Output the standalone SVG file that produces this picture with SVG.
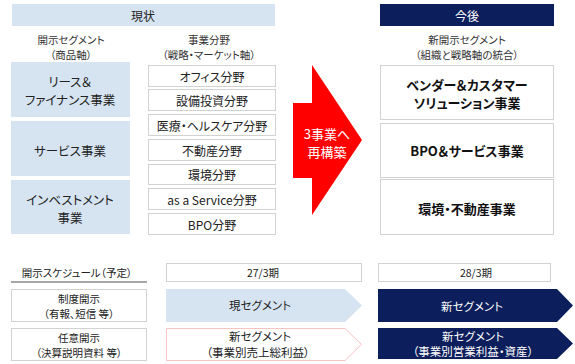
<svg xmlns="http://www.w3.org/2000/svg" width="575" height="364" viewBox="0 0 575 364">
<style>
text{font-family:"Noto Sans CJK JP","Noto Sans",sans-serif;text-anchor:middle;dominant-baseline:central;font-feature-settings:"palt";fill:#222}
.sub{font-size:10.5px;fill:#333}
.lb{font-size:12.5px}
.mb{font-size:12px}
.rb{font-size:13px;font-weight:bold;fill:#111}
.sm{font-size:10.5px}
.sg{font-size:11.5px}
.blue{fill:#d6e4f1}
.wbox{fill:#fff;stroke:#d2d2d2;stroke-width:1}
.navy{fill:#0c1e5b}
</style>
<g id="header-current"><rect class="blue" x="12" y="4" width="263" height="22"/><text x="143" y="15" style="font-size:12px">現状</text></g>
<g id="header-future"><rect class="navy" x="380" y="4" width="174" height="22"/><text x="467" y="15" style="font-size:12px;fill:#fff">今後</text></g>
<g id="sub-left"><text class="sub" x="71" y="39">開示セグメント</text><text class="sub" x="71" y="54">（商品軸）</text></g>
<g id="sub-mid"><text class="sub" x="209" y="39">事業分野</text><text class="sub" x="209" y="54">（戦略・マーケット軸）</text></g>
<g id="sub-right"><text class="sub" x="467" y="39">新開示セグメント</text><text class="sub" x="467" y="54">（組織と戦略軸の統合）</text></g>
<g id="seg-lease"><rect class="blue" x="11" y="62" width="119" height="55"/><text class="lb" x="70" y="81">リース＆</text><text class="lb" x="70" y="99">ファイナンス事業</text></g>
<g id="seg-service"><rect class="blue" x="11" y="121" width="119" height="55"/><text class="lb" x="70" y="150">サービス事業</text></g>
<g id="seg-invest"><rect class="blue" x="11" y="180" width="119" height="54"/><text class="lb" x="70" y="199">インベストメント</text><text class="lb" x="70" y="217.5">事業</text></g>
<g id="f-office"><rect class="wbox" x="148.5" y="65.5" width="127" height="21"/><text class="mb" x="212" y="76">オフィス分野</text></g>
<g id="f-equip"><rect class="wbox" x="148.5" y="89.5" width="127" height="21"/><text class="mb" x="212" y="100">設備投資分野</text></g>
<g id="f-health"><rect class="wbox" x="148.5" y="114.5" width="127" height="21"/><text class="mb" x="212" y="125">医療・ヘルスケア分野</text></g>
<g id="f-real"><rect class="wbox" x="148.5" y="139.5" width="127" height="21"/><text class="mb" x="212" y="150">不動産分野</text></g>
<g id="f-env"><rect class="wbox" x="148.5" y="164.5" width="127" height="20"/><text class="mb" x="212" y="174.5">環境分野</text></g>
<g id="f-aas"><rect class="wbox" x="148.5" y="188.5" width="127" height="21"/><text class="mb" x="212" y="199">as a Service分野</text></g>
<g id="f-bpo"><rect class="wbox" x="148.5" y="213.5" width="127" height="21"/><text class="mb" x="212" y="224">BPO分野</text></g>
<g id="arrow"><polygon points="293,103 312,103 312,65 362,140 312,215 312,178 293,178" fill="#ff0000"/><text x="327" y="133" style="font-size:13px;fill:#fff">3事業へ</text><text x="327" y="151" style="font-size:13px;fill:#fff">再構築</text></g>
<g id="n-vendor"><rect class="wbox" x="380.5" y="65.5" width="173" height="54"/><text class="rb" x="467" y="84">ベンダー＆カスタマー</text><text class="rb" x="467" y="102">ソリューション事業</text></g>
<g id="n-bpo"><rect class="wbox" x="380.5" y="123.5" width="173" height="54"/><text class="rb" x="467" y="150">BPO＆サービス事業</text></g>
<g id="n-env"><rect class="wbox" x="380.5" y="179.5" width="173" height="55"/><text class="rb" x="467" y="208">環境・不動産事業</text></g>
<g id="schedule"><text class="sm" x="77" y="272">開示スケジュール（予定）</text><line x1="11" y1="282" x2="147" y2="282" stroke="#888" stroke-width="1.5"/></g>
<g id="p27"><rect class="wbox" x="166.5" y="263.5" width="195" height="18"/><text class="sm" x="263" y="272.5">27/3期</text></g>
<g id="p28"><rect class="wbox" x="378.5" y="263.5" width="172" height="18"/><text class="sm" x="476" y="272.5">28/3期</text></g>
<g id="legal"><rect class="wbox" x="11.5" y="289.5" width="135" height="32"/><text class="sm" x="79" y="298">制度開示</text><text class="sm" x="79" y="313">（有報、短信 等）</text></g>
<g id="optional"><rect class="wbox" x="11.5" y="328.5" width="135" height="32"/><text class="sm" x="79" y="337">任意開示</text><text class="sm" x="79" y="352">（決算説明資料 等）</text></g>
<g id="cur-seg"><polygon class="blue" points="166,289 345,289 362,305.5 345,322 166,322"/><text class="sg" x="260" y="305">現セグメント</text></g>
<g id="new-seg1"><polygon points="166.5,328.5 345,328.5 361.5,344.5 345,360.5 166.5,360.5" fill="#fff" stroke="#f7c4c4" stroke-width="1"/><text class="sg" x="260" y="336">新セグメント</text><text class="sg" x="258" y="352">（事業別売上総利益）</text></g>
<g id="new-seg2"><polygon class="navy" points="378,289 557,289 573,305.5 557,322 378,322"/><text class="sg" x="472" y="306" style="fill:#fff">新セグメント</text></g>
<g id="new-seg3"><polygon class="navy" points="378,328 557,328 573,343.5 557,359 378,359"/><text class="sg" x="473" y="335.5" style="fill:#fff">新セグメント</text><text class="sg" x="473" y="351" style="fill:#fff">（事業別営業利益・資産）</text></g>
<g id="connectors"/>
</svg>
